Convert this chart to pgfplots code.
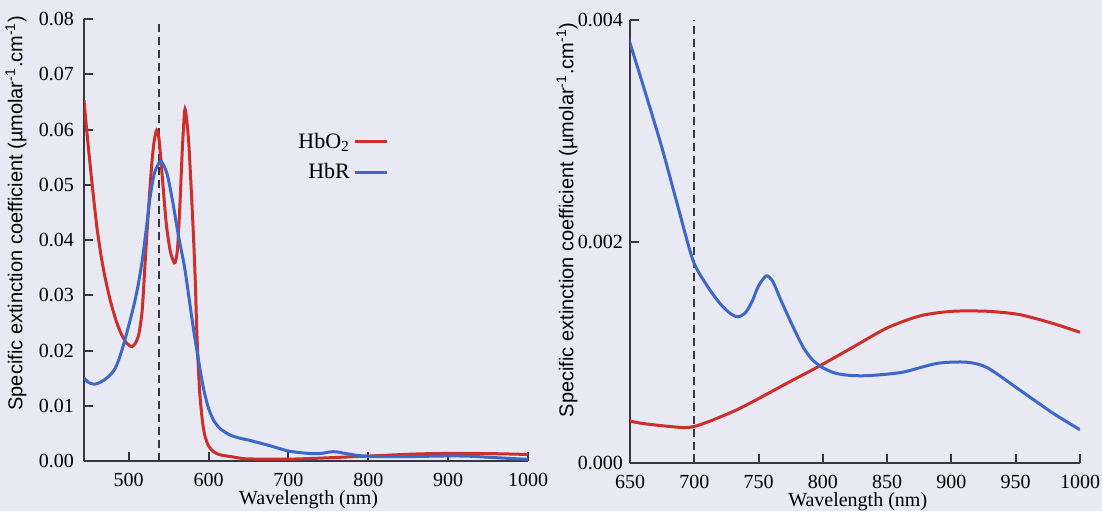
\documentclass[border=0pt]{standalone}
\usepackage{pgfplots}
\usepackage{pgfplotstable}
\usepackage{fontspec}
\pgfplotsset{compat=1.18}
\setmainfont{Liberation Serif}
\newfontfamily\lsans{Liberation Sans}

\definecolor{bgcol}{RGB}{233,233,243}
\definecolor{hbored}{RGB}{205,48,42}
\definecolor{hbrblue}{RGB}{62,104,200}
\definecolor{axcol}{RGB}{55,55,65}

% wavelength (nm), extinction coefficient
\pgfplotstableread{
lam val
444 0.0653
447 0.0605
450 0.0560
455 0.0490
460 0.0425
465 0.0375
470 0.0335
477 0.0290
484 0.0255
490 0.0232
497 0.0214
504 0.0207
509 0.0215
513 0.0232
517 0.0275
521 0.0370
525 0.0460
529 0.0540
532 0.0580
535 0.0599
538 0.0582
542 0.0515
547 0.0430
552 0.0380
556 0.0362
558 0.0359
561 0.0382
564 0.0460
567 0.0560
570 0.0634
572 0.0625
575 0.0580
578 0.0500
581 0.0410
583.5 0.0320
585 0.0245
587 0.0175
589 0.0122
592 0.0076
595 0.0048
600 0.0027
607 0.0016
615 0.0011
628 0.0008
640 0.0005
650 0.00038
681 0.00033
700 0.00033
733 0.00048
772 0.00072
798 0.00088
824 0.00105
850 0.00122
876 0.00133
901 0.00137
928 0.00137
953 0.00134
979 0.00126
1000 0.00118
}\hbo

\pgfplotstableread{
lam val
444 0.0150
450 0.0142
457 0.0139
465 0.0143
474 0.0152
482 0.0165
488 0.0185
494 0.0213
500 0.0245
507 0.0285
512 0.0320
517 0.0364
522 0.0420
527 0.0480
532 0.0520
537 0.0537
541 0.0542
548 0.0520
555 0.0470
562 0.0410
570 0.0350
577 0.0280
582 0.0230
586 0.0195
590 0.0160
594 0.0129
600 0.0095
607 0.0072
615 0.0058
627 0.0047
640 0.0041
650 0.00379
673 0.00292
686 0.00237
699 0.00183
710 0.00160
720 0.00144
728 0.00135
734 0.00132
740 0.00136
745 0.00146
750 0.00160
756 0.00169
761 0.00164
767 0.00148
772 0.00135
778 0.00120
785 0.00104
792 0.00093
800 0.00086
810 0.00081
822 0.00079
837 0.00079
862 0.00082
889 0.00090
912 0.00091
928 0.00086
953 0.00066
979 0.00045
1000 0.00030
}\hbr

\pgfplotsset{
  specstyle/.style={
    scale only axis,
    axis lines=left,
    axis line style={-, axcol, line width=1pt},
    tick align=inside,
    major tick length=4.5pt,
    every tick/.style={axcol, line width=1pt},
    scaled y ticks=false,
    /pgf/number format/assume math mode=true,
    tick label style={font=\fontsize{10}{12}\selectfont},
    xticklabel style={/pgf/number format/1000 sep={}, yshift=-2.5pt},
    xlabel={Wavelength (nm)},
    xlabel style={font=\fontsize{10}{12}\selectfont, at={(axis description cs:0.506,-0.088)}, anchor=center},
    ylabel={\lsans Specific extinction coefficient (µmolar\textsuperscript{-1}.cm\textsuperscript{-1})},
    clip=true,
  },
  redline/.style={hbored, line width=1.5pt, smooth, tension=0.45},
  blueline/.style={hbrblue, line width=1.5pt, smooth, tension=0.45},
  dashline/.style={axcol, line width=1pt, dash pattern=on 4pt off 2.5pt},
}

\begin{document}
\begin{tikzpicture}
\path[use as bounding box, fill=bgcol] (0,0) rectangle (551pt,255.5pt);

\begin{axis}[
  specstyle,
  at={(42pt,25pt)}, anchor=south west,
  width=222pt, height=221pt,
  xmin=444, xmax=1000, ymin=0, ymax=0.08,
  xtick={500,600,...,1000},
  ytick={0,0.01,0.02,0.03,0.04,0.05,0.06,0.07,0.08},
  yticklabel style={xshift=-1.5pt, /pgf/number format/.cd, fixed, fixed zerofill, precision=2},
  ylabel style={font=\fontsize{10}{12}\selectfont, at={(axis description cs:-0.153,0.561)}, anchor=center},
  legend plot pos=right,
  legend cell align=right,
  legend image code/.code={\draw[#1] (0pt,0pt) -- (16pt,0pt);},
  legend style={at={(axis description cs:0.692,0.757)}, anchor=north east,
    draw=none, fill=none, font=\fontsize{11}{13}\selectfont, row sep=2pt, inner sep=1pt},
]
\addplot[dashline, forget plot] coordinates {(538,0) (538,0.0795)};
\addplot[redline] table[x=lam, y=val] {\hbo};
\addlegendentry{HbO\textsubscript{2}}
\addplot[blueline] table[x=lam, y=val] {\hbr};
\addlegendentry{HbR}
\end{axis}

\begin{axis}[
  specstyle,
  at={(315pt,24pt)}, anchor=south west,
  width=225pt, height=221.5pt,
  xmin=650, xmax=1000, ymin=0, ymax=0.004,
  xtick={650,700,...,1000},
  ytick={0,0.002,0.004},
  yticklabel style={/pgf/number format/.cd, fixed, fixed zerofill, precision=3},
  ylabel style={font=\fontsize{10}{12}\selectfont, at={(axis description cs:-0.14,0.549)}, anchor=center},
]
\addplot[dashline] coordinates {(700,0) (700,0.004)};
\addplot[redline] table[x=lam, y=val] {\hbo};
\addplot[blueline] table[x=lam, y=val] {\hbr};
\end{axis}
\end{tikzpicture}
\end{document}
